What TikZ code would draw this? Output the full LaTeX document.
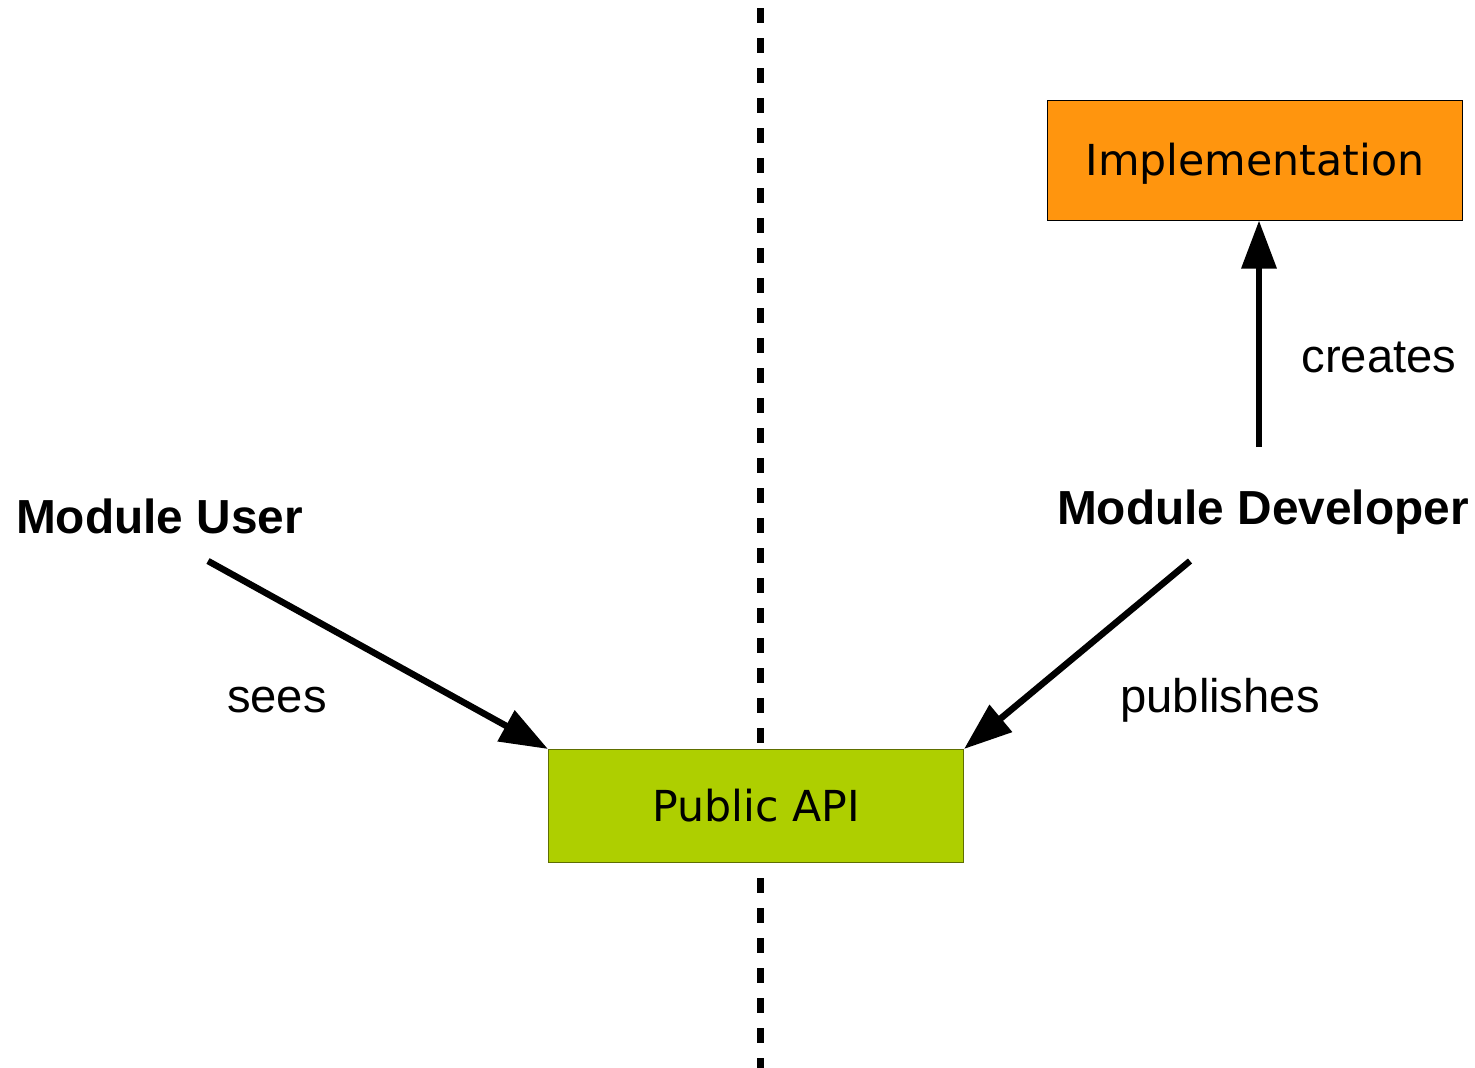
\documentclass[tikz,border=0pt]{standalone}
\usepackage{fontspec}
\setmainfont{Liberation Sans}
\newfontfamily\boxfont{DejaVu Sans}
\usetikzlibrary{arrows.meta}
\definecolor{implorange}{HTML}{FF950E}
\definecolor{apigreen}{HTML}{AECF00}
\definecolor{apiborder}{HTML}{5E6E00}

\begin{document}
\begin{tikzpicture}[->, >={Triangle[length=48pt, width=34pt]}, x=1pt, y=-1pt, line width=6.5pt]
      \tikzstyle{block}=[draw=black, line width=1pt, minimum width=415pt, inner sep=0pt, text height=31pt, text depth=0pt, font=\boxfont\fontsize{42.7}{50}\selectfont]
      \tikzstyle{actor}=[anchor=base, inner sep=0pt, font=\fontsize{47.8}{56}\selectfont\bfseries]
      \tikzstyle{verb}=[anchor=base, inner sep=0pt, font=\fontsize{47.2}{56}\selectfont]
      \useasboundingbox (0,0) rectangle (1475,1068);
      % dividing line, behind the api box
      \coordinate (divtop) at (760,8);
      \coordinate (divbot) at (760,1068);
      \draw[-, line width=7pt, dash pattern=on 15pt off 15pt] (divtop) -- (divbot);
      \node[block, fill=implorange, minimum height=120pt] (impl) at (1255,160) {Implementation};
      \node[block, fill=apigreen, draw=apiborder, minimum height=113pt] (api) at (756,806) {Public API};
      \node[actor] (user) at (159.5,533) {Module User};
      \node[actor] (dev) at (1263,524) {Module Developer};
      \node[verb] (sees) at (277,712) {sees};
      \node[verb] (publishes) at (1220,712) {publishes};
      \node[verb] (creates) at (1379,372) {creates};
      % arrow feet under the actors
      \coordinate (userfoot) at (208,561);
      \coordinate (devfoot) at (1190,561);
      \coordinate (devhead) at (1259,447);
      \path (userfoot) edge (api.north west);
      \path (devfoot) edge (api.north east);
      \path (devhead) edge (devhead |- impl.south);
    \end{tikzpicture}
\end{document}
